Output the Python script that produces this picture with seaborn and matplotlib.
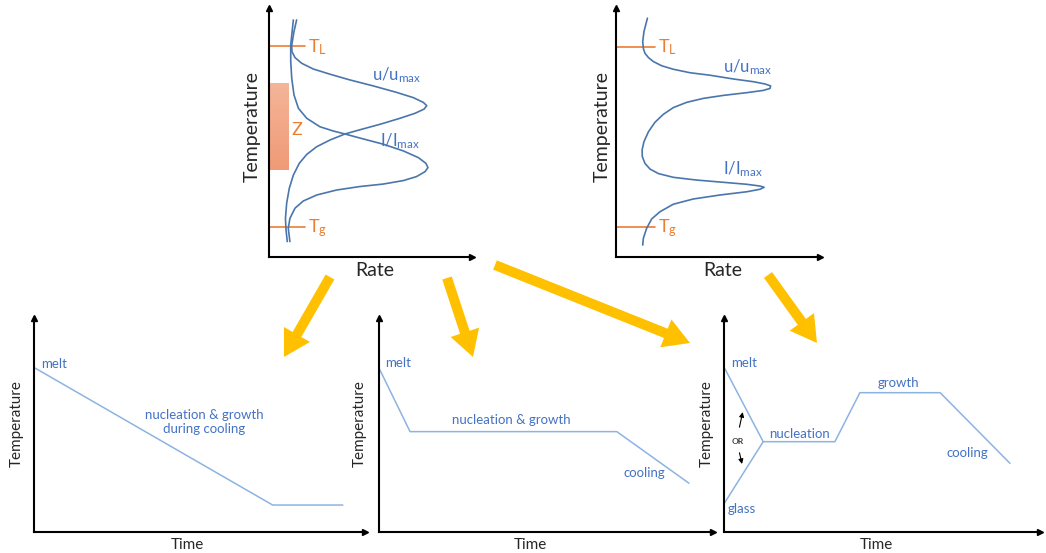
import numpy as np
import pandas as pd
import matplotlib.pyplot as plt
import seaborn as sns
from matplotlib.patches import FancyArrow
from matplotlib.colors import LinearSegmentedColormap

# ---- data (rate and temperature in normalised units, 0-100) ----
# top-left: growth rate u/umax and nucleation rate I/Imax overlapping
u_left_rate = [13.6, 12.3, 11.2, 11.3, 12.8, 16.1, 21.8, 30.1, 39.9, 51.4, 62.9, 71.1, 76.0, 77.7,
               76.4, 71.9, 64.5, 54.7, 44.8, 37.4, 30.1, 23.5, 18.6, 14.9, 12.0, 10.0, 8.7, 8.1,
               8.4, 9.0]
u_left_temp = [95.2, 90.5, 85.1, 82.5, 80.1, 77.8, 75.5, 73.4, 71.1, 68.7, 66.1, 64.0, 62.1, 60.8,
               59.4, 57.7, 55.7, 53.3, 51.1, 49.4, 47.0, 44.3, 41.2, 37.6, 32.9, 27.6, 21.6, 15.5,
               10.8, 6.2]
i_left_rate = [12.0, 11.3, 10.7, 10.7, 11.2, 12.3, 14.5, 18.6, 25.1, 31.7, 37.4, 46.5, 56.3, 66.2,
               73.6, 77.3, 78.3, 76.9, 72.7, 66.2, 56.3, 44.8, 33.3, 23.5, 16.9, 12.8, 10.3, 9.5,
               10.3]
i_left_temp = [95.2, 89.8, 85.1, 78.5, 71.8, 65.1, 59.7, 55.7, 52.3, 50.6, 49.4, 47.4, 45.3, 42.6,
               39.9, 37.6, 35.9, 34.3, 32.3, 30.7, 29.3, 28.3, 26.9, 24.9, 22.5, 19.6, 15.5, 11.5,
               6.2]

# top-right: separated u and I peaks (one continuous curve)
right_rate = [15.4, 13.7, 13.1, 13.4, 14.2, 15.9, 18.3, 22.4, 28.1, 36.3, 46.1, 57.5, 67.3, 73.0,
              75.8, 75.5, 72.2, 64.1, 52.6, 42.8, 34.6, 28.1, 23.2, 19.1, 15.9, 13.7, 12.8, 12.9,
              14.2, 16.7, 20.8, 28.1, 39.5, 52.6, 64.1, 70.6, 72.6, 70.6, 64.1, 51.0, 37.9, 28.1,
              21.6, 17.5, 15.0, 13.4, 13.1]
right_temp = [95.9, 90.5, 86.5, 83.8, 81.8, 80.1, 78.5, 76.8, 75.4, 74.0, 73.0, 71.5, 70.4, 69.5,
              68.7, 67.7, 66.9, 66.0, 64.9, 63.7, 62.1, 60.0, 57.3, 54.1, 50.3, 46.3, 43.0, 40.3,
              37.6, 35.3, 33.5, 32.0, 30.9, 30.0, 29.2, 28.5, 28.0, 27.2, 26.2, 24.9, 23.3, 21.2,
              18.2, 15.3, 11.5, 7.5, 4.8]

t_liquidus = [84.7, 84.5]   # left, right panel
t_glass = [12.2, 12.2]
z_zone = (34.9, 69.5)

# bottom: temperature-time schedules
sched_a_time = [0.1, 72.1, 93.3]
sched_a_temp = [76.8, 12.6, 12.6]
sched_b_time = [0.0, 9.3, 71.2, 92.8]
sched_b_temp = [76.6, 46.9, 46.9, 22.8]
sched_c_melt_time = [0.1, 12.4]
sched_c_melt_temp = [76.8, 42.2]
sched_c_glass_time = [0.1, 12.4]
sched_c_glass_temp = [13.4, 42.2]
sched_c_time = [12.4, 35.1, 43.0, 68.4, 90.5]
sched_c_temp = [42.2, 42.2, 65.1, 65.1, 32.1]

# yellow flow arrows (tail x, tail y, tip x, tip y) in figure pixels
flow_arrows = [(330, 277, 284, 357), (447, 278, 473, 357),
               (495, 265, 690, 343), (768, 275, 817, 343)]

# ---- style ----
sns.set_style("white")
plt.rcParams["font.family"] = ["Lato", "DejaVu Sans"]
plt.rcParams["mathtext.default"] = "regular"

ORANGE = "#ED7D31"
CURVE = "#4A76AC"
TRACE = "#8DB3E2"
TXT = "#4472C4"
YELLOW = "#FFC000"

W, H = 1046, 553
fig = plt.figure(figsize=(W / 100, H / 100), dpi=100)


def add_panel(l, t, r, b):
    ax = fig.add_axes([l / W, 1 - b / H, (r - l) / W, (b - t) / H])
    ax.set_xlim(0, 100)
    ax.set_ylim(0, 100)
    ax.patch.set_visible(False)
    for s in ["top", "right"]:
        ax.spines[s].set_visible(False)
    for s in ["left", "bottom"]:
        ax.spines[s].set_color("black")
        ax.spines[s].set_linewidth(1.5)
    ax.set_xticks([])
    ax.set_yticks([])
    ax.plot(1, 0, ">k", ms=5, transform=ax.transAxes, clip_on=False)
    ax.plot(0, 1, "^k", ms=5, transform=ax.transAxes, clip_on=False)
    return ax


def ftext(px, py, s, **kw):
    fig.text(px / W, 1 - py / H, s, ha="center", va="center", **kw)


# ---- top panels ----
ax_tl = add_panel(269, 8, 472, 257)
ax_tr = add_panel(616, 8, 820, 257)

grad = LinearSegmentedColormap.from_list("z", ["#F09A77", "#F4B598"])
ax_tl.imshow(np.linspace(0, 1, 50).reshape(-1, 1), cmap=grad, origin="lower",
             extent=[0, 9.4, z_zone[0], z_zone[1]], aspect="auto", zorder=1)
ax_tl.set_xlim(0, 100)
ax_tl.set_ylim(0, 100)

for ax, rx, ty in [(ax_tl, u_left_rate, u_left_temp),
                   (ax_tl, i_left_rate, i_left_temp),
                   (ax_tr, right_rate, right_temp)]:
    sns.lineplot(x=rx, y=ty, sort=False, estimator=None, ax=ax,
                 color=CURVE, lw=1.2, zorder=3, solid_joinstyle="round")

for ax, tl, tg, xe in [(ax_tl, t_liquidus[0], t_glass[0], 17.7),
                       (ax_tr, t_liquidus[1], t_glass[1], 19.1)]:
    ax.plot([0, xe], [tl, tl], color=ORANGE, lw=1.2, zorder=2)
    ax.plot([0, xe], [tg, tg], color=ORANGE, lw=1.2, zorder=2)
    ax.text(xe + 1.5, tl - 2.4, "T$_{L}$", color=ORANGE, fontsize=13, va="baseline")
    ax.text(xe + 1.5, tg - 2.2, "T$_{g}$", color=ORANGE, fontsize=13, va="baseline")
    ax.set_xlabel("")
    ax.set_ylabel("")

ax_tl.text(13.8, 51.0, "Z", color=ORANGE, fontsize=13, ha="center", va="center")
ax_tl.text(50.7, 71.1, "u/u$_{max}$", color=TXT, fontsize=12, va="baseline")
ax_tl.text(54.7, 44.6, "I/I$_{max}$", color=TXT, fontsize=12, va="baseline")
ax_tr.text(52.5, 74.3, "u/u$_{max}$", color=TXT, fontsize=12, va="baseline")
ax_tr.text(52.5, 33.3, "I/I$_{max}$", color=TXT, fontsize=12, va="baseline")

ftext(252, 127, "Temperature", fontsize=14, rotation=90)
ftext(375, 271, "Rate", fontsize=14)
ftext(602, 126, "Temperature", fontsize=14, rotation=90)
ftext(723, 271, "Rate", fontsize=14)

# ---- bottom panels ----
ax_a = add_panel(34, 318, 365, 532)
ax_b = add_panel(379, 318, 713, 532)
ax_c = add_panel(724, 318, 1040, 532)

for ax, tx, ty in [(ax_a, sched_a_time, sched_a_temp),
                   (ax_b, sched_b_time, sched_b_temp),
                   (ax_c, sched_c_melt_time, sched_c_melt_temp),
                   (ax_c, sched_c_glass_time, sched_c_glass_temp),
                   (ax_c, sched_c_time, sched_c_temp)]:
    sns.lineplot(x=tx, y=ty, sort=False, estimator=None, ax=ax, color=TRACE, lw=1.1)
    ax.set_xlabel("")
    ax.set_ylabel("")

fs = 9.5
ax_a.text(2.3, 78.5, "melt", color=TXT, fontsize=fs, va="center")
ax_a.text(51.4, 51.4, "nucleation & growth\nduring cooling", color=TXT, fontsize=fs,
          ha="center", va="center", linespacing=1.25)
ax_b.text(1.8, 78.8, "melt", color=TXT, fontsize=fs, va="center")
ax_b.text(39.7, 52.3, "nucleation & growth", color=TXT, fontsize=fs, ha="center", va="center")
ax_b.text(79.6, 27.6, "cooling", color=TXT, fontsize=fs, ha="center", va="center")
ax_c.text(2.1, 78.8, "melt", color=TXT, fontsize=fs, va="center")
ax_c.text(1.0, 10.6, "glass", color=TXT, fontsize=fs, va="center")
ax_c.text(14.2, 45.8, "nucleation", color=TXT, fontsize=fs, va="center")
ax_c.text(55.1, 69.5, "growth", color=TXT, fontsize=fs, ha="center", va="center")
ax_c.text(76.9, 37.1, "cooling", color=TXT, fontsize=fs, ha="center", va="center")
ax_c.text(4.5, 42.5, "OR", color="#404040", fontsize=6, fontweight="bold",
          ha="center", va="center")
ax_c.annotate("", xy=(6.1, 57.3), xytext=(4.7, 47.7),
              arrowprops=dict(arrowstyle="-|>", color="black", lw=0.8, mutation_scale=7))
ax_c.annotate("", xy=(5.9, 30.5), xytext=(4.7, 38.3),
              arrowprops=dict(arrowstyle="-|>", color="black", lw=0.8, mutation_scale=7))

for cx in [17, 360, 707]:
    ftext(cx, 424, "Temperature", fontsize=11, rotation=90)
for cx in [187, 530, 876]:
    ftext(cx, 545, "Time", fontsize=11)

# ---- yellow arrows on a pixel canvas ----
canvas = fig.add_axes([0, 0, 1, 1], zorder=10)
canvas.set_xlim(0, W)
canvas.set_ylim(H, 0)
canvas.axis("off")
canvas.patch.set_visible(False)
for x0, y0, x1, y1 in flow_arrows:
    canvas.add_patch(FancyArrow(x0, y0, x1 - x0, y1 - y0, width=10, head_width=30,
                                head_length=26, length_includes_head=True,
                                color=YELLOW, lw=0))

fig.savefig("out.png", dpi=100)
